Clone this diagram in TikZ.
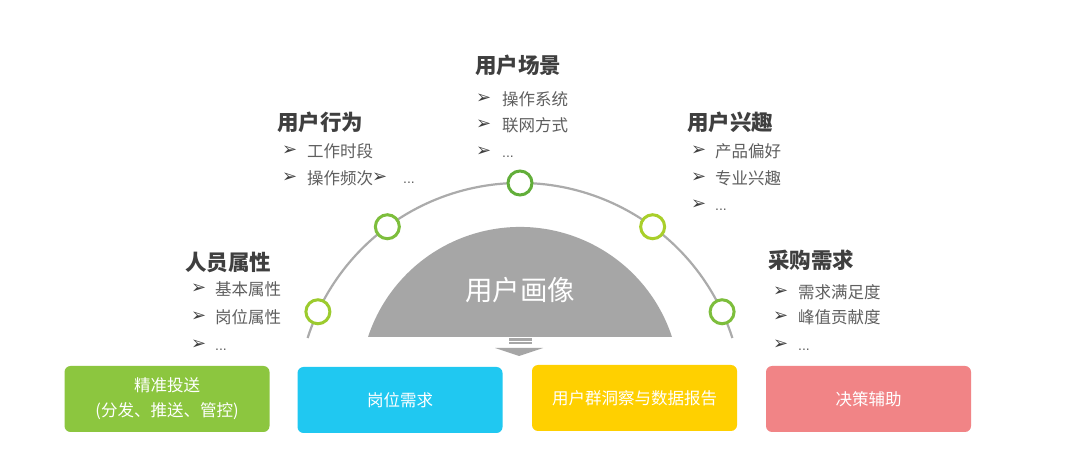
\documentclass[tikz,border=0pt]{standalone}
\usepackage{fontspec}
\setmainfont{Noto Sans CJK SC}
\newfontfamily\symfont{DejaVu Sans}
\newfontfamily\latfont{Liberation Sans}
\definecolor{domegray}{HTML}{A6A6A6}
\definecolor{arcgray}{HTML}{ABABAB}
\definecolor{headcol}{HTML}{3F3F3F}
\definecolor{itemcol}{HTML}{5F5F5F}
\definecolor{gA}{HTML}{9CCB2E}
\definecolor{gB}{HTML}{7DBE3C}
\definecolor{gC}{HTML}{62AE3A}
\definecolor{gD}{HTML}{A9CF2A}
\definecolor{bGreen}{HTML}{8CC63F}
\definecolor{bBlue}{HTML}{20C8F1}
\definecolor{bYellow}{HTML}{FFD000}
\definecolor{bPink}{HTML}{F18486}
\begin{document}
\begin{tikzpicture}[x=1pt,y=1pt,
  head/.style={anchor=west,inner sep=0pt,text=headcol,font=\fontsize{21.5}{24}\selectfont\bfseries},
  itm/.style={anchor=west,inner sep=0pt,text=itemcol,font=\fontsize{16.5}{19}\selectfont},
  dots/.style={anchor=south west,inner sep=0pt,text=itemcol,font=\latfont\fontsize{14}{16}\selectfont},
  arw/.style={anchor=west,inner sep=0pt,text=headcol,font=\symfont\fontsize{18}{20}\selectfont},
  marker/.style={circle,draw=#1,line width=3pt,fill=white,minimum size=24pt,inner sep=0pt},
  box/.style={rounded corners=6pt,fill=#1,minimum width=205pt,minimum height=66pt,inner sep=0pt,text=white,align=center,font=\fontsize{16.5}{25}\selectfont}
]
\useasboundingbox (0,0) rectangle (1080,-454);
\fill[white] (0,0) rectangle (1080,-454);

% dome
\coordinate (dc) at (520,-387);
\fill[domegray] (672,-337) arc[start angle=18.2,end angle=161.8,radius=160] -- cycle;
\node[text=white,font=\fontsize{27.5}{30}\selectfont,inner sep=0pt] (dome) at (520,-290) {用户画像};

% outer arc
\coordinate (ac) at (520,-406);
\draw[arcgray,line width=2.2pt] ([shift={(17.75:223)}]ac) arc[start angle=17.75,end angle=162.25,radius=223];

% markers
\node[marker=gA] (m1) at ([shift={(155:223)}]ac) {};
\node[marker=gB] (m2) at ([shift={(126.5:223)}]ac) {};
\node[marker=gC] (m3) at ([shift={(90:223)}]ac) {};
\node[marker=gD] (m4) at ([shift={(53.5:223)}]ac) {};
\node[marker=gB] (m5) at ([shift={(25:223)}]ac) {};

% small down arrow
\fill[domegray] (509,-338.3) rectangle (532,-340.6);
\fill[domegray] (509,-341.8) rectangle (532,-344);
\fill[domegray] (495,-348) -- (543,-348) -- (519,-356) -- cycle;

% 用户场景
\node[head] (h3) at (475,-65) {用户场景};
\node[arw] (a31) at (476,-99) {➢};
\node[itm] (t31) at (502,-99) {操作系统};
\node[arw] (a32) at (476,-125) {➢};
\node[itm] (t32) at (502,-125) {联网方式};
\node[arw] (a33) at (476,-152) {➢};
\node[dots] (t33) at (502,-158) {...};

% 用户行为
\node[head] (h2) at (277,-122) {用户行为};
\node[arw] (a21) at (282,-151) {➢};
\node[itm] (t21) at (307,-151) {工作时段};
\node[arw] (a22) at (282,-178) {➢};
\node[itm] (t22) at (307,-178) {操作频次};
\node[arw] (a23) at (372,-178) {➢};
\node[dots] (t23) at (403,-184) {...};

% 人员属性
\node[head] (h1) at (185,-262) {人员属性};
\node[arw] (a11) at (191,-289) {➢};
\node[itm] (t11) at (215,-289) {基本属性};
\node[arw] (a12) at (191,-317) {➢};
\node[itm] (t12) at (215,-317) {岗位属性};
\node[arw] (a13) at (191,-345) {➢};
\node[dots] (t13) at (215,-351) {...};

% 用户兴趣
\node[head] (h4) at (687,-122) {用户兴趣};
\node[arw] (a41) at (691,-151) {➢};
\node[itm] (t41) at (715,-151) {产品偏好};
\node[arw] (a42) at (691,-178) {➢};
\node[itm] (t42) at (715,-178) {专业兴趣};
\node[arw] (a43) at (691,-205) {➢};
\node[dots] (t43) at (715,-211) {...};

% 采购需求
\node[head] (h5) at (768,-260) {采购需求};
\node[arw] (a51) at (773,-292) {➢};
\node[itm] (t51) at (798,-292) {需求满足度};
\node[arw] (a52) at (773,-317) {➢};
\node[itm] (t52) at (798,-317) {峰值贡献度};
\node[arw] (a53) at (773,-345) {➢};
\node[dots] (t53) at (798,-351) {...};

% boxes
\node[box=bGreen] (b1) at (167,-399) {精准投送\\(分发、推送、管控)};
\node[box=bBlue] (b2) at (400,-400) {岗位需求};
\node[box=bYellow] (b3) at (634.5,-398) {用户群洞察与数据报告};
\node[box=bPink] (b4) at (868.5,-399) {决策辅助};
\end{tikzpicture}
\end{document}
